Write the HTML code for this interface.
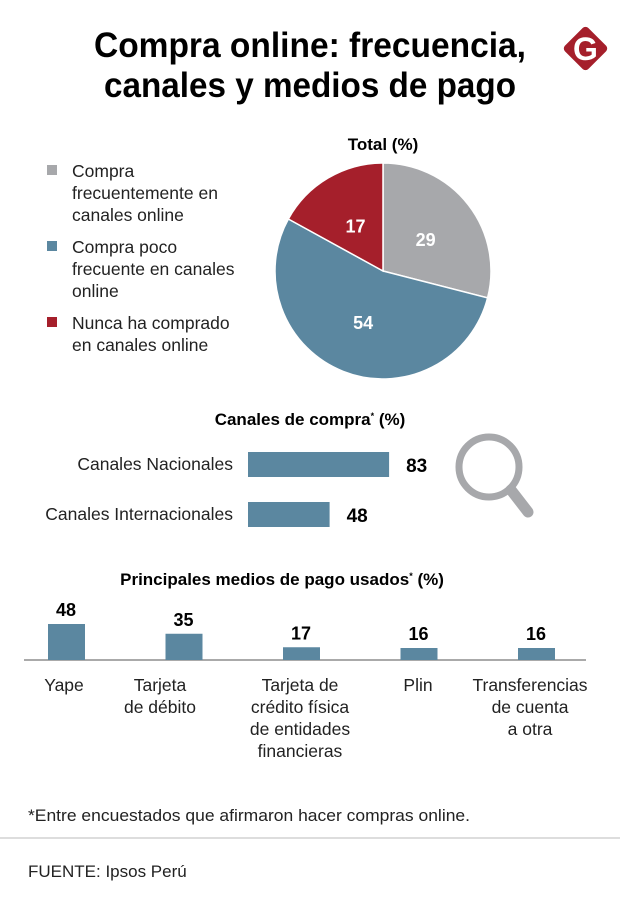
<!DOCTYPE html>
<html><head><meta charset="utf-8"><style>
body{margin:0;background:#fff;}
svg text{font-family:"Liberation Sans Narrow","Liberation Sans",sans-serif;}
</style></head><body>
<svg width="620" height="910" viewBox="0 0 620 910">
<text x="310" y="57" text-anchor="middle" font-size="35" font-weight="bold" fill="#000" textLength="432" lengthAdjust="spacingAndGlyphs">Compra online: frecuencia,</text>
<text x="310" y="97" text-anchor="middle" font-size="35" font-weight="bold" fill="#000" textLength="412" lengthAdjust="spacingAndGlyphs">canales y medios de pago</text>
<g>
<rect x="569" y="32" width="33" height="33" rx="4" fill="#a51f2b" transform="rotate(45 585.5 48.5)"/>
<text x="585.5" y="60" text-anchor="middle" font-size="32" font-weight="bold" fill="#fff" font-family="Liberation Serif,serif">G</text>
</g>
<text x="383" y="150" text-anchor="middle" font-size="17" font-weight="bold">Total (%)</text>
<g font-size="17.5" fill="#222">
<rect x="47" y="165" width="10" height="10" fill="#a7a8ab"/>
<text x="72" y="177"><tspan x="72">Compra</tspan><tspan x="72" dy="22">frecuentemente en</tspan><tspan x="72" dy="22">canales online</tspan></text>
<rect x="47" y="241" width="10" height="10" fill="#5b87a0"/>
<text x="72" y="253"><tspan x="72">Compra poco</tspan><tspan x="72" dy="22">frecuente en canales</tspan><tspan x="72" dy="22">online</tspan></text>
<rect x="47" y="317" width="10" height="10" fill="#a51f2b"/>
<text x="72" y="329"><tspan x="72">Nunca ha comprado</tspan><tspan x="72" dy="22">en canales online</tspan></text>
</g>
<g id="pie"></g>
<text x="310" y="425" text-anchor="middle" font-size="17" font-weight="bold">Canales de compra<tspan font-size="9" dy="-6">*</tspan><tspan dy="6"> (%)</tspan></text>
<g id="hbars"></g>
<g>
<circle cx="489" cy="467" r="30" fill="none" stroke="#a7a8ab" stroke-width="7"/>
<line x1="511" y1="490" x2="528" y2="512" stroke="#a7a8ab" stroke-width="11" stroke-linecap="round"/>
</g>
<text x="282" y="585" text-anchor="middle" font-size="17" font-weight="bold">Principales medios de pago usados<tspan font-size="9" dy="-6">*</tspan><tspan dy="6"> (%)</tspan></text>
<g id="vbars"></g>
<text x="28" y="821" font-size="17" fill="#222" textLength="442" lengthAdjust="spacingAndGlyphs">*Entre encuestados que afirmaron hacer compras online.</text>
<line x1="0" y1="838" x2="620" y2="838" stroke="#bbb" stroke-width="1"/>
<text x="28" y="877" font-size="17" fill="#222">FUENTE: Ipsos Perú</text>
</svg>
<script>
const pieLabels=["Compra frecuentemente","Compra poco frecuente","Nunca ha comprado"];
const pieValues=[29,54,17];
const pieColors=["#a7a8ab","#5b87a0","#a51f2b"];
const chanLabels=["Canales Nacionales","Canales Internacionales"];
const chanValues=[83,48];
const payLabels=[["Yape"],["Tarjeta","de débito"],["Tarjeta de","crédito física","de entidades","financieras"],["Plin"],["Transferencias","de cuenta","a otra"]];
const payValues=[48,35,17,16,16];
const NS="http://www.w3.org/2000/svg";
function mk(t,a,p){const e=document.createElementNS(NS,t);for(const k in a)e.setAttribute(k,a[k]);p.appendChild(e);return e;}
// pie
const pie=document.getElementById('pie');const cx=383,cy=271,R=108;
const tot=pieValues.reduce((a,b)=>a+b,0);let acc=0;
pieValues.forEach((v,i)=>{const a0=acc/tot*2*Math.PI;acc+=v;const a1=acc/tot*2*Math.PI;
const p=(a)=>[cx+R*Math.sin(a),cy-R*Math.cos(a)];const s=p(a0),e=p(a1);
const path=mk('path',{d:`M${cx},${cy}L${s[0]},${s[1]}A${R},${R} 0 ${a1-a0>Math.PI?1:0} 1 ${e[0]},${e[1]}Z`,fill:pieColors[i],stroke:'#fff','stroke-width':1.5},pie);


const am=(a0+a1)/2,r=R*0.5;
const t=mk('text',{x:cx+r*Math.sin(am),y:cy-r*Math.cos(am)+8,'text-anchor':'middle','font-size':18,'font-weight':'bold',fill:'#fff'},pie);t.textContent=v;


});
// horizontal bars
const hb=document.getElementById('hbars');const hx=248,hs=1.7;
chanValues.forEach((v,i)=>{const y=452+i*50;
const r=mk('rect',{x:hx,y:y,width:v*hs,height:25,fill:'#5b87a0'},hb);


const l=mk('text',{x:233,y:y+18,'text-anchor':'end','font-size':17.5,fill:'#222'},hb);l.textContent=chanLabels[i];


const t=mk('text',{x:hx+v*hs+17,y:y+20,'font-size':19,'font-weight':'bold',fill:'#000'},hb);t.textContent=v;


});
// vertical bars
const vb=document.getElementById('vbars');const base=660,vs=0.75;
const ax=mk('line',{x1:24,y1:base,x2:586,y2:base,stroke:'#555','stroke-width':1},vb);


payValues.forEach((v,i)=>{const c=66+i*117.5;const h=v*vs;
const r=mk('rect',{x:c-18,y:base-h,width:37,height:h,fill:'#5b87a0'},vb);


const t=mk('text',{x:c,y:base-h-8,'text-anchor':'middle','font-size':18,'font-weight':'bold',fill:'#000'},vb);t.textContent=v;


const lx=[64,160,300,418,530][i];
const l=mk('text',{x:lx,y:691,'text-anchor':'middle','font-size':17.5,fill:'#222'},vb);


payLabels[i].forEach((s,j)=>{const ts=mk('tspan',{x:lx,dy:j?22:0},l);ts.textContent=s;});
});
</script>
</body></html>
